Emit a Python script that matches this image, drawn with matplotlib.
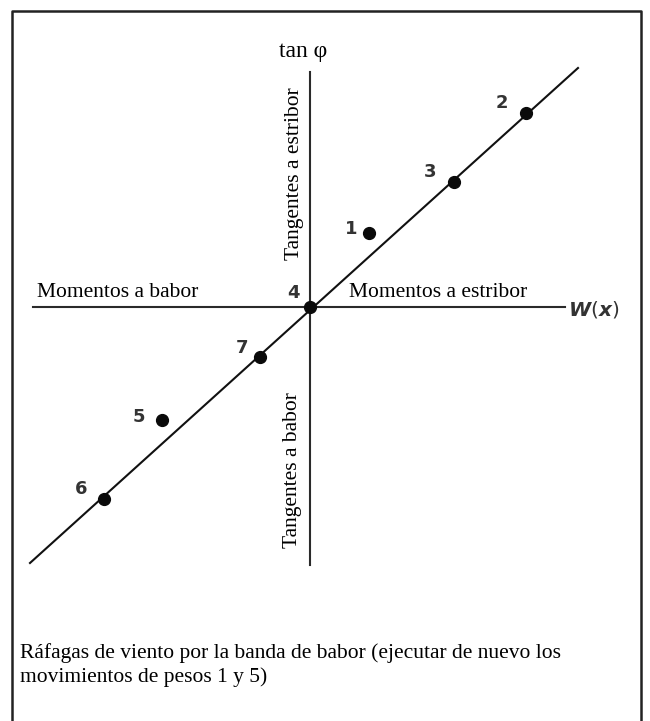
import matplotlib
matplotlib.use("Agg")
import matplotlib.pyplot as plt

# ---- data (W(x), tan phi) ----
labels = ["1", "2", "3", "4", "5", "6", "7"]
w_x = [0.59, 2.16, 1.44, 0.00, -1.48, -2.06, -0.50]
tan_phi = [0.74, 1.94, 1.25, 0.00, -1.13, -1.92, -0.50]
fit_x = [-2.80, 2.68]
fit_y = [-2.56, 2.39]

W, H = 650, 721
fig = plt.figure(figsize=(W / 100, H / 100), dpi=100)
ax = fig.add_axes([0, 0, 1, 1])
ax.set_xlim(-3.10, 3.40)
ax.set_ylim(-4.14, 3.07)
ax.axis("off")

def P(px, py):
    return (px - 310) / 100.0, (307 - py) / 100.0

axc = "#2a2a2a"
# frame
fx0, fy0 = P(12, 11)
fx1, fy1 = P(641, 721)
ax.plot([fx0, fx0, fx1, fx1], [fy1, fy0, fy0, fy1], color="#222222", lw=1.8,
        solid_capstyle="butt", clip_on=False)

# axes lines
hx0, _ = P(33, 307)
hx1, _ = P(565, 307)
ax.plot([hx0, hx1], [0, 0], color=axc, lw=1.5)
_, vy0 = P(311, 72)
_, vy1 = P(311, 565)
ax.plot([0, 0], [vy1, vy0], color=axc, lw=1.5)

# fitted line
ax.plot(fit_x, fit_y, color="#111111", lw=1.5)
# points
ax.plot(w_x, tan_phi, "o", color="#0a0a0a", ms=8.5, zorder=5)

# point labels
lab_off = {"1": (-18, -4), "2": (-24, -10), "3": (-24, -10), "4": (-17, -14),
           "5": (-23, -3), "6": (-23, -10), "7": (-18, -9)}
for l, x, y in zip(labels, w_x, tan_phi):
    dx, dy = lab_off[l]
    ax.annotate(l, (x, y), xytext=(dx * 0.72, -dy * 0.72), textcoords="offset points",
                ha="center", va="center", fontsize=13, color="#333333",
                family="DejaVu Sans", weight="bold")

serif = "Liberation Serif"
fs = 15.5
ax.text(*P(303, 52), "tan φ", ha="center", va="center", fontsize=17, family=serif)
ax.text(*P(295, 174), "Tangentes a estribor", rotation=90, ha="center", va="center",
        fontsize=fs, family=serif)
ax.text(*P(292, 470), "Tangentes a babor", rotation=90, ha="center", va="center",
        fontsize=fs, family=serif)
ax.text(*P(37, 293), "Momentos a babor", ha="left", va="center", fontsize=fs, family=serif)
ax.text(*P(349, 293), "Momentos a estribor", ha="left", va="center", fontsize=fs, family=serif)
ax.text(*P(568, 310), r"$\boldsymbol{W}(\boldsymbol{x})$", ha="left", va="center", fontsize=14.5,
        color="#333333")
ax.text(*P(20, 653), "Ráfagas de viento por la banda de babor (ejecutar de nuevo los",
        ha="left", va="center", fontsize=fs, family=serif)
ax.text(*P(20, 677), "movimientos de pesos 1 y 5)",
        ha="left", va="center", fontsize=fs, family=serif)

fig.savefig("out.png", dpi=100)
